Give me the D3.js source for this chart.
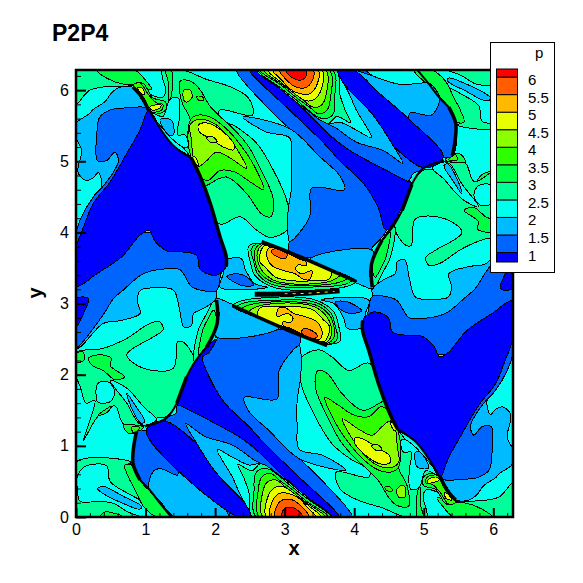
<!DOCTYPE html>
<html lang="en">
<head>
<meta charset="utf-8">
<title>P2P4</title>
<script src="https://d3js.org/d3.v7.min.js"></script>
<style>
  html, body { margin: 0; background: #fff; }
  text { font-family: "Liberation Sans", Arial, sans-serif; fill: #000; }
  .axis .domain { display: none; }
  .axis line { stroke: #000; }
  .axis text { font-size: 16px; }
</style>
</head>
<body>
<div id="chart"></div>
<script>
// contour levels and colours, one colour per band (below 1 ... above 6)
var levels = [1, 1.5, 2, 2.5, 3, 3.5, 4, 4.5, 5, 5.5, 6];
var levelLabels = ["1", "1.5", "2", "2.5", "3", "3.5", "4", "4.5", "5", "5.5", "6"];
var bandColors = ["#0000ff", "#0064ff", "#00bbff", "#00ffee", "#00ff99", "#00ff44", "#2eff00", "#8bff00", "#e8ff00", "#ffba00", "#ff5d00", "#ff0000"];
var xTicks = [0, 1, 2, 3, 4, 5, 6];
var yTicks = [0, 1, 2, 3, 4, 5, 6];
var minorTicks = d3.range(0, 32).map(function(i) { return i / 5; });

// contour outlines, as [x, y] in data units
// upper left lobe
var cornerSpring = [[0,6.28],[.30,6.28],[.44,6.17],[.70,6.08],[.82,6.06],[.44,6.05],[.20,6.0],[.13,5.94],[0,5.80]];
var cornerBright = [[.30,6.28],[.85,6.28],[.99,6.15],[1.09,6.01],[.82,6.08],[.70,6.08],[.44,6.17]];
var lobeSpring = [[.87,6.09],[1.11,5.92],[1.25,5.90],[1.29,6.01],[1.25,6.15],[1.24,6.28],[1.54,6.28],[1.88,6.15],[2.21,6.05],[2.48,5.89],[2.54,5.65],[2.07,5.72],[2.06,5.61],[2.31,5.48],[2.60,5.25],[2.84,4.87],[3.03,4.45],[3.07,4.17],[3.03,4.03],[2.79,3.93],[2.60,4.03],[2.36,4.22],[2.06,4.12],[1.66,5.04],[1.05,5.72]];
var lobeBright = [[1.50,6.13],[1.66,6.12],[1.78,6.01],[1.93,5.77],[2.07,5.63],[2.28,5.44],[2.48,5.21],[2.64,4.92],[2.84,4.45],[2.80,4.22],[2.67,4.26],[2.45,4.55],[2.16,4.78],[1.88,4.66],[1.83,4.64],[1.78,4.80],[1.66,5.04],[1.61,5.42],[1.64,5.59],[1.52,5.84]];
var lobeGreen = [[1.65,5.59],[1.76,5.65],[1.93,5.62],[2.16,5.46],[2.38,5.21],[2.57,4.92],[2.70,4.60],[2.52,4.70],[2.28,4.85],[2.07,4.87],[1.90,4.73],[1.81,4.76],[1.78,4.80],[1.66,5.04],[1.61,5.30]];
var lobeLime = [[1.64,5.51],[1.78,5.59],[2.02,5.51],[2.26,5.25],[2.45,4.90],[2.21,5.05],[2.02,5.13],[1.88,5.01],[1.76,4.93],[1.69,5.04],[1.66,5.30]];
var lobeYellow = [[1.76,5.51],[1.88,5.54],[2.12,5.41],[2.28,5.22],[2.26,5.16],[2.12,5.20],[1.93,5.32],[1.78,5.41]];
var lobeHole = [[1.88,5.33],[1.95,5.35],[2.03,5.28],[1.95,5.26]];
var lobeSpot = [[1.64,5.03],[1.71,5.06],[1.76,4.94],[1.71,4.97]];
var lobeOval = [[1.55,6.0],[1.64,6.0],[1.67,5.90],[1.59,5.83],[1.55,5.86]];
var lobeDot = [[1.73,5.91],[1.81,5.91],[1.84,5.86],[1.78,5.85]];
var lobeStrip = [[1.29,6.28],[1.37,6.28],[1.39,6.10],[1.35,5.87],[1.33,5.87],[1.33,6.10]];
var tipBright = [[.87,6.10],[.97,6.09],[1.11,5.89],[1.28,5.84],[1.30,5.75],[1.23,5.68],[1.09,5.68]];
var tipGreen = [[.82,6.07],[.92,6.10],[1.04,5.94],[1.16,5.82],[1.25,5.80],[1.23,5.72],[1.06,5.70],[.99,5.87]];
var tipYellowA = [[.88,6.04],[.96,6.02],[.98,5.94],[.93,5.96]];
var tipYellowB = [[1.06,5.76],[1.22,5.80],[1.21,5.75],[1.09,5.72]];
var lobeCyan = [[1.09,5.68],[1.25,5.63],[1.35,5.87],[1.47,5.89],[1.49,5.63],[1.46,5.37],[1.57,5.37],[1.61,5.21],[1.57,5.19],[1.42,5.28]];
var lobeLight = [[1.21,5.59],[1.37,5.58],[1.40,5.37],[1.33,5.37]];
// same lobe family, lower right
var cornerSpringB = [[6.28,0],[5.98,0],[5.84,.11],[5.58,.20],[5.46,.22],[5.84,.23],[6.08,.28],[6.15,.34],[6.28,.48]];
var cornerBrightB = [[5.98,0],[5.43,0],[5.29,.13],[5.19,.27],[5.46,.20],[5.58,.20],[5.84,.11]];
var lobeSpringB = [[5.41,.19],[5.17,.36],[5.03,.38],[4.99,.27],[5.03,.13],[5.04,0],[4.74,0],[4.40,.13],[4.07,.23],[3.80,.39],[3.74,.63],[4.21,.56],[4.22,.67],[3.97,.80],[3.68,1.03],[3.44,1.41],[3.25,1.83],[3.21,2.11],[3.25,2.25],[3.49,2.35],[3.68,2.25],[3.92,2.06],[4.22,2.16],[4.62,1.24],[5.23,.56]];
var lobeBrightB = [[4.78,.15],[4.62,.16],[4.50,.27],[4.35,.51],[4.21,.65],[4.00,.84],[3.80,1.07],[3.64,1.36],[3.44,1.83],[3.48,2.06],[3.61,2.02],[3.83,1.73],[4.12,1.50],[4.40,1.62],[4.45,1.64],[4.50,1.48],[4.62,1.24],[4.67,.86],[4.64,.69],[4.76,.44]];
var lobeGreenB = [[4.63,.69],[4.52,.63],[4.35,.66],[4.12,.82],[3.90,1.07],[3.71,1.36],[3.58,1.68],[3.76,1.58],[4.00,1.43],[4.21,1.41],[4.38,1.55],[4.47,1.52],[4.50,1.48],[4.62,1.24],[4.67,.98]];
var lobeLimeB = [[4.64,.77],[4.50,.69],[4.26,.77],[4.02,1.03],[3.83,1.38],[4.07,1.23],[4.26,1.15],[4.40,1.27],[4.52,1.35],[4.59,1.24],[4.62,.98]];
var lobeYellowB = [[4.52,.77],[4.40,.74],[4.16,.87],[4.00,1.06],[4.02,1.12],[4.16,1.08],[4.35,.96],[4.50,.87]];
var lobeHoleB = [[4.40,.95],[4.33,.93],[4.25,1.0],[4.33,1.02]];
var lobeSpotB = [[4.64,1.25],[4.57,1.22],[4.52,1.34],[4.57,1.31]];
var lobeOvalB = [[4.73,.28],[4.64,.28],[4.61,.38],[4.69,.45],[4.73,.42]];
var lobeDotB = [[4.55,.37],[4.47,.37],[4.44,.42],[4.50,.43]];
var lobeStripB = [[4.99,0],[4.91,0],[4.89,.18],[4.93,.41],[4.95,.41],[4.95,.18]];
var tipBrightB = [[5.41,.18],[5.31,.19],[5.17,.39],[5.0,.44],[4.98,.53],[5.05,.60],[5.19,.60]];
var tipGreenB = [[5.46,.21],[5.36,.18],[5.24,.34],[5.12,.46],[5.03,.48],[5.05,.56],[5.22,.58],[5.29,.41]];
var tipYellowAB = [[5.40,.24],[5.32,.26],[5.30,.34],[5.35,.32]];
var tipYellowBB = [[5.22,.52],[5.06,.48],[5.07,.53],[5.19,.56]];
var lobeCyanB = [[5.19,.60],[5.03,.65],[4.93,.41],[4.81,.39],[4.79,.65],[4.82,.91],[4.71,.91],[4.67,1.07],[4.71,1.09],[4.86,1.0]];
var lobeLightB = [[5.07,.69],[4.91,.70],[4.88,.91],[4.95,.91]];

// lower left lobe
var sideSpring = [[.02,2.32],[.39,2.37],[.73,2.51],[1.06,2.72],[1.21,2.74],[1.25,2.63],[1.11,2.53],[.73,2.28],[.97,2.09],[1.40,2.09],[1.46,2.46],[1.54,2.46],[1.71,2.18],[1.59,1.97],[1.45,1.60],[1.30,1.41],[1.16,1.39],[.99,1.28],[.90,1.29],[.68,1.31],[.56,1.56],[.32,1.42],[.11,1.08],[.20,1.36],[.27,1.64],[.15,1.60],[.06,1.83],[0,1.99],[0,2.21]];
var sideOval = [[.29,1.69],[.32,1.88],[.46,1.90],[.56,1.76],[.49,1.62],[.32,1.61]];
var sideBlob = [[.18,2.23],[.34,2.28],[.51,2.23],[.49,2.13],[.70,1.97],[.56,1.93],[.39,2.06],[.25,2.12]];
var sideFleck = [[.32,1.43],[.51,1.56],[.46,1.48],[.35,1.43]];
var sideEdge = [[0,2.30],[.10,2.32],[.11,2.20],[0,2.18]];
var sideWedge = [[.49,1.92],[.73,1.81],[.99,1.53],[1.16,1.37],[.99,1.29],[.90,1.32],[.73,1.60]];
var sideStreak = [[.73,1.74],[.85,1.57],[.99,1.34],[.93,1.32],[.80,1.53]];
var knotBright = [[.68,1.29],[.87,1.29],[.97,1.26],[.85,1.18],[.75,1.18]];
var knotGreen = [[.80,1.26],[.92,1.26],[.83,1.18]];
var stripSpring = [[2.0,3.07],[2.03,2.72],[1.90,2.42],[1.71,2.18],[1.69,2.23],[1.76,2.63],[1.88,2.86]];
var stripBright = [[1.98,2.91],[2.02,2.72],[1.90,2.44],[1.76,2.28],[1.78,2.44],[1.83,2.65],[1.90,2.79]];
var footSpring = [[0,.77],[.80,.77],[.72,.72],[.85,.43],[1.06,.26],[1.42,0],[0,0]];
var footCyan = [[.02,.57],[.13,.71],[.44,.72],[.49,.50],[.75,.33],[.92,.24],[1.21,.07],[1.25,0],[.97,0],[.75,.07],[.54,.19],[.34,.22],[.06,.22],[.02,.38]];
var footStreak = [[.31,.40],[.39,.43],[.68,.29],[.94,.15],[.92,.11],[.68,.19],[.39,.33]];
var footBright = [[.70,.73],[.80,.73],[.92,.52],[1.21,.22],[1.42,0],[1.16,0],[.97,.15],[.85,.38],[.75,.57]];
var footOval = [[.34,0],[.42,.07],[.56,.05],[.68,0]];
// same family, upper right
var sideSpringB = [[6.26,3.96],[5.89,3.91],[5.55,3.77],[5.22,3.56],[5.07,3.54],[5.03,3.65],[5.17,3.75],[5.55,4.0],[5.31,4.19],[4.88,4.19],[4.82,3.82],[4.74,3.82],[4.57,4.10],[4.69,4.31],[4.83,4.68],[4.98,4.87],[5.12,4.89],[5.29,5.0],[5.38,4.99],[5.60,4.97],[5.72,4.72],[5.96,4.86],[6.17,5.20],[6.08,4.92],[6.01,4.64],[6.13,4.68],[6.22,4.45],[6.28,4.29],[6.28,4.07]];
var sideOvalB = [[5.99,4.59],[5.96,4.40],[5.82,4.38],[5.72,4.52],[5.79,4.66],[5.96,4.67]];
var sideBlobB = [[6.10,4.05],[5.94,4.0],[5.77,4.05],[5.79,4.15],[5.58,4.31],[5.72,4.35],[5.89,4.22],[6.03,4.16]];
var sideFleckB = [[5.96,4.85],[5.77,4.72],[5.82,4.80],[5.93,4.85]];
var sideEdgeB = [[6.28,3.98],[6.18,3.96],[6.17,4.08],[6.28,4.10]];
var sideWedgeB = [[5.79,4.36],[5.55,4.47],[5.29,4.75],[5.12,4.91],[5.29,4.99],[5.38,4.96],[5.55,4.68]];
var sideStreakB = [[5.55,4.54],[5.43,4.71],[5.29,4.94],[5.35,4.96],[5.48,4.75]];
var knotBrightB = [[5.60,4.99],[5.41,4.99],[5.31,5.02],[5.43,5.10],[5.53,5.10]];
var knotGreenB = [[5.48,5.02],[5.36,5.02],[5.45,5.10]];
var stripSpringB = [[4.28,3.21],[4.25,3.56],[4.38,3.86],[4.57,4.10],[4.59,4.05],[4.52,3.65],[4.40,3.42]];
var stripBrightB = [[4.30,3.37],[4.26,3.56],[4.38,3.84],[4.52,4.0],[4.50,3.84],[4.45,3.63],[4.38,3.49]];
var footSpringB = [[6.28,5.51],[5.48,5.51],[5.56,5.56],[5.43,5.85],[5.22,6.02],[4.86,6.28],[6.28,6.28]];
var footCyanB = [[6.26,5.71],[6.15,5.57],[5.84,5.56],[5.79,5.78],[5.53,5.95],[5.36,6.04],[5.07,6.21],[5.03,6.28],[5.31,6.28],[5.53,6.21],[5.74,6.09],[5.94,6.06],[6.22,6.06],[6.26,5.90]];
var footStreakB = [[5.97,5.88],[5.89,5.85],[5.60,5.99],[5.34,6.13],[5.36,6.17],[5.60,6.09],[5.89,5.95]];
var footBrightB = [[5.58,5.55],[5.48,5.55],[5.36,5.76],[5.07,6.06],[4.86,6.28],[5.12,6.28],[5.31,6.13],[5.43,5.90],[5.53,5.71]];

// low pressure wedges
var leftLight = [[.82,6.04],[.63,6.04],[.51,5.96],[.42,5.84],[.25,5.73],[.18,5.66],[0,5.53],[0,5.33],[.08,5.16],[.03,4.84],[.15,4.73],[.25,4.77],[.32,4.84],[.37,4.65],[.27,4.53],[1,5],[1.05,5.72],[.94,5.87]];
var leftLightB = [[5.46,.24],[5.65,.24],[5.77,.32],[5.86,.44],[6.03,.55],[6.10,.62],[6.28,.75],[6.28,.95],[6.20,1.12],[6.25,1.44],[6.13,1.55],[6.03,1.51],[5.96,1.44],[5.91,1.63],[6.01,1.75],[5.28,1.28],[5.23,.56],[5.34,.41]];
var midLight = [[0,2.37],[.39,2.72],[.63,2.76],[.92,2.86],[.88,3.05],[.93,3.19],[1.16,3.22],[1.40,3.19],[1.49,2.91],[1.55,2.67],[1.66,2.69],[1.69,2.86],[1.83,2.93],[2.02,3.07],[2.02,3.18],[2.08,3.4],[2.16,3.63],[1,4],[0,3.6]];
var midLightB = [[6.28,3.91],[5.89,3.56],[5.65,3.52],[5.36,3.42],[5.40,3.23],[5.35,3.09],[5.12,3.06],[4.88,3.09],[4.79,3.37],[4.73,3.61],[4.62,3.59],[4.59,3.42],[4.45,3.35],[4.26,3.21],[4.26,3.10],[4.20,2.88],[4.12,2.65],[5.28,2.28],[6.28,2.68]];
var leftMid = [[1.05,5.72],[.73,5.75],[.49,5.72],[.34,5.62],[.30,5.39],[.31,5.01],[.44,5.01],[.56,5.13],[.61,5.01],[.54,4.85],[.39,4.65],[.25,4.50],[.08,4.22],[0,3.98],[0,3.6],[1,4.5]];
var leftMidB = [[5.23,.56],[5.55,.53],[5.79,.56],[5.94,.66],[5.98,.89],[5.97,1.27],[5.84,1.27],[5.72,1.15],[5.67,1.27],[5.74,1.43],[5.89,1.63],[6.03,1.78],[6.20,2.06],[6.28,2.30],[6.28,2.68],[5.28,1.78]];
var lowMid = [[0,3.6],[1,4],[2.16,3.63],[2.08,3.4],[2.02,3.18],[1.78,3.19],[1.66,3.24],[1.49,3.48],[1.30,3.49],[.97,3.42],[.68,3.19],[.54,3.07],[.39,2.84],[.06,2.42],[0,2.37]];
var lowMidB = [[6.28,2.68],[5.28,2.28],[4.12,2.65],[4.20,2.88],[4.26,3.10],[4.50,3.09],[4.62,3.04],[4.79,2.80],[4.98,2.79],[5.31,2.86],[5.60,3.09],[5.74,3.21],[5.89,3.44],[6.22,3.86],[6.28,3.91]];
var leftDeepSpot = [[0,3.07],[.18,3.07],[.13,2.91],[0,2.67]];
var rightDeepSpot = [[6.28,3.21],[6.10,3.21],[6.15,3.37],[6.28,3.61]];
var bandMid = [[2.31,6.28],[2.50,6.28],[3.07,5.72],[3.55,5.27],[3.79,5.01],[4.13,4.69],[4.34,4.36],[4.46,4.03],[4.25,3.77],[4.27,3.75],[3.41,3.64],[3.07,3.71],[3.07,3.87],[3.36,4.22],[3.39,4.62],[3.86,4.60],[3.79,4.80],[3.51,5.06],[3.07,5.46],[2.79,5.72]];
var bandMidB = [[3.97,0],[3.78,0],[3.21,.56],[2.73,1.01],[2.49,1.27],[2.15,1.59],[1.94,1.92],[1.82,2.25],[2.03,2.51],[2.01,2.53],[2.87,2.64],[3.21,2.57],[3.21,2.41],[2.92,2.06],[2.89,1.66],[2.42,1.68],[2.49,1.48],[2.77,1.22],[3.21,.82],[3.49,.56]];
var bandLight = [[2.40,5.62],[3.07,5.46],[3.51,5.06],[3.79,4.80],[3.86,4.60],[3.39,4.62],[3.36,4.22],[3.07,3.87],[3.05,3.94],[3.05,4.31],[3.10,4.64],[3.10,5.01],[3.07,5.33],[2.74,5.41]];
var bandLightB = [[3.88,.66],[3.21,.82],[2.77,1.22],[2.49,1.48],[2.42,1.68],[2.89,1.66],[2.92,2.06],[3.21,2.41],[3.23,2.34],[3.23,1.97],[3.18,1.64],[3.18,1.27],[3.21,.95],[3.54,.87]];
var topMid = [[3.99,6.28],[4.15,6.28],[4.51,5.93],[4.77,5.58],[4.80,5.68],[5.11,5.65],[5.21,5.79],[5.23,5.90],[5.45,5.55],[5.42,5.08],[5.28,5.06]];
var topLight = [[3.99,6.28],[4.20,6.22],[4.66,6.08],[4.97,6.10],[5.09,6.09],[5.23,5.90],[5.21,5.79],[5.11,5.65],[4.80,5.68],[4.77,5.58]];
var footMid = [[1.01,1.21],[2.33,0],[2.19,0],[1.50,.70],[1.46,.59],[1.21,.68],[1.11,.64],[1.05,.39],[.92,.52],[.82,.75],[.83,.99],[.87,1.20]];
var footLight = [[1.05,.39],[1.11,.64],[1.21,.68],[1.46,.59],[1.50,.70],[2.19,0],[1.42,0],[1.21,.22]];
var centreLight = [[2.16,3.61],[2.38,3.63],[2.43,3.49],[2.57,3.28],[2.76,3.23],[2.07,3.23],[2.12,3.42]];
var centreLightB = [[4.12,2.67],[3.90,2.65],[3.85,2.79],[3.71,3.0],[3.52,3.05],[4.21,3.05],[4.16,2.86]];
var centreOval = [[2.17,3.38],[2.31,3.42],[2.45,3.38],[2.55,3.26],[2.40,3.25],[2.26,3.31]];
var centreOvalB = [[4.11,2.90],[3.97,2.86],[3.83,2.90],[3.73,3.02],[3.88,3.03],[4.02,2.97]];
var wedgeLight = [[3.36,3.62],[4.27,3.74],[4.22,3.42],[4.27,3.21],[4.08,3.27]];
var wedgeLightB = [[2.92,2.66],[2.01,2.54],[2.06,2.86],[2.01,3.07],[2.20,3.01]];
var stripeMid = [[3.64,6.28],[4.99,4.91],[4.85,4.83],[4.77,4.72],[3.94,5.15],[3.60,5.41],[3.31,5.67],[3.03,5.93],[2.62,6.28]];
var stripeMidB = [[2.64,0],[1.29,1.37],[1.44,1.46],[1.46,1.57],[2.34,1.13],[2.68,.87],[2.97,.61],[3.25,.35],[3.66,0]];
var stripeDeep = [[2.50,6.28],[2.64,6.28],[3.03,5.95],[3.36,5.65],[3.70,5.32],[3.94,5.15],[4.77,4.72],[4.82,4.70],[4.46,4.03],[4.34,4.36],[4.13,4.69],[3.79,5.01],[3.55,5.27],[3.07,5.72]];
var stripeDeepB = [[3.78,0],[3.64,0],[3.25,.33],[2.92,.63],[2.58,.96],[2.34,1.13],[1.51,1.56],[1.46,1.58],[1.71,2.18],[1.88,2.39],[2.02,2.50],[1.90,2.30],[1.82,2.25],[1.94,1.92],[2.15,1.59],[2.49,1.27],[2.73,1.01],[3.21,.56]];
var outerDeep = [[3.70,6.28],[3.99,6.28],[4.37,5.95],[4.80,5.58],[5.28,5.06],[4.99,4.91]];
var outerDeepB = [[1.28,1.35],[2.60,0],[2.33,0],[1.01,1.21]];
var wedgeDeep = [[1.05,5.72],[1.21,5.46],[1.40,5.22],[1.66,5.04],[1.78,4.80],[1.93,4.41],[2.07,3.94],[2.16,3.66],[2.16,3.52],[2.02,3.40],[1.88,3.42],[1.78,3.49],[1.73,3.68],[1.45,3.73],[1.33,3.73],[1.14,3.87],[1.05,4.03],[.92,3.96],[.66,3.66],[.30,3.42],[0,3.24],[0,3.77],[.11,4.08],[.25,4.41],[.49,4.71],[.73,5.11],[.92,5.44]];
var wedgeDeepB = [[5.23,.56],[5.07,.82],[4.88,1.06],[4.62,1.24],[4.50,1.48],[4.35,1.87],[4.21,2.34],[4.12,2.62],[4.12,2.76],[4.26,2.88],[4.40,2.86],[4.50,2.79],[4.55,2.60],[4.83,2.55],[4.95,2.55],[5.14,2.41],[5.23,2.25],[5.36,2.32],[5.62,2.62],[5.98,2.86],[6.28,3.04],[6.28,2.51],[6.17,2.20],[6.03,1.87],[5.79,1.57],[5.55,1.17],[5.36,.84]];

// the two hills at the top and bottom edge
var tearLight = [[3.67,6.28],[3.91,6.02],[4.27,5.65],[4.56,5.22],[4.70,4.97],[4.42,5.15],[4.03,5.27],[3.75,5.46],[3.55,5.60]];
var tearCyan = [[3.69,6.28],[3.89,6.02],[4.03,5.72],[4.25,5.33],[4.03,5.44],[3.79,5.55],[3.65,5.53],[3.55,5.58]];
var hill25 = [[2.60,6.28],[3.74,6.28],[3.79,5.95],[3.87,5.72],[3.95,5.54],[3.75,5.63],[3.63,5.53],[3.51,5.58],[3.36,5.69],[3.17,5.83],[2.93,6.02]];
var hill3 = [[2.62,6.28],[3.69,6.28],[3.72,5.90],[3.70,5.67],[3.60,5.60],[3.48,5.62],[3.34,5.72],[3.17,5.86],[2.93,6.04]];
var hill35 = [[2.65,6.28],[3.64,6.28],[3.66,5.90],[3.61,5.72],[3.48,5.67],[3.36,5.76],[3.19,5.88],[2.95,6.07]];
var hill4 = [[2.70,6.28],[3.59,6.28],[3.60,5.95],[3.53,5.79],[3.41,5.76],[3.22,5.90],[2.95,6.09]];
var hill45 = [[2.76,6.28],[3.54,6.28],[3.53,6.02],[3.43,5.87],[3.31,5.85],[3.17,5.93],[2.95,6.11]];
var hill5 = [[2.83,6.28],[3.48,6.28],[3.47,6.09],[3.36,5.95],[3.22,5.95],[3.07,6.02],[2.95,6.15]];
var hill55 = [[2.93,6.28],[3.41,6.28],[3.40,6.14],[3.31,6.04],[3.17,6.04],[3.03,6.14]];
var hill6 = [[3.02,6.28],[3.31,6.28],[3.30,6.18],[3.22,6.14],[3.10,6.18]];
var tearLightB = [[2.61,0],[2.37,.26],[2.01,.63],[1.72,1.06],[1.58,1.31],[1.86,1.13],[2.25,1.01],[2.53,.82],[2.73,.68]];
var tearCyanB = [[2.59,0],[2.39,.26],[2.25,.56],[2.03,.95],[2.25,.84],[2.49,.73],[2.63,.75],[2.73,.70]];
var hill25B = [[3.68,0],[2.54,0],[2.49,.33],[2.41,.56],[2.33,.74],[2.53,.65],[2.65,.75],[2.77,.70],[2.92,.59],[3.11,.45],[3.35,.26]];
var hill3B = [[3.66,0],[2.59,0],[2.56,.38],[2.58,.61],[2.68,.68],[2.80,.66],[2.94,.56],[3.11,.42],[3.35,.24]];
var hill35B = [[3.63,0],[2.64,0],[2.62,.38],[2.67,.56],[2.80,.61],[2.92,.52],[3.09,.40],[3.33,.21]];
var hill4B = [[3.58,0],[2.69,0],[2.68,.33],[2.75,.49],[2.87,.52],[3.06,.38],[3.33,.19]];
var hill45B = [[3.52,0],[2.74,0],[2.75,.26],[2.85,.41],[2.97,.43],[3.11,.35],[3.33,.17]];
var hill5B = [[3.45,0],[2.80,0],[2.81,.19],[2.92,.33],[3.06,.33],[3.21,.26],[3.33,.13]];
var hill55B = [[3.35,0],[2.87,0],[2.88,.14],[2.97,.24],[3.11,.24],[3.25,.14]];
var hill6B = [[3.26,0],[2.97,0],[2.98,.10],[3.06,.14],[3.18,.10]];

// the slanted slabs in the centre
var slab25 = [[2.48,3.80],[2.63,3.85],[3.22,3.63],[4.03,3.31],[3.89,3.24],[3.60,3.20],[2.98,3.20],[2.76,3.26],[2.57,3.40],[2.50,3.61]];
var slab3 = [[2.52,3.77],[2.65,3.85],[3.22,3.63],[3.96,3.32],[3.82,3.26],[3.55,3.24],[3.03,3.23],[2.79,3.28],[2.61,3.42],[2.55,3.61]];
var slab35 = [[2.57,3.75],[2.67,3.84],[3.22,3.63],[3.89,3.35],[3.75,3.29],[3.51,3.26],[3.07,3.26],[2.81,3.31],[2.63,3.45],[2.57,3.61]];
var slab4 = [[2.61,3.73],[2.69,3.83],[3.22,3.63],[3.79,3.40],[3.67,3.32],[3.43,3.28],[3.07,3.28],[2.84,3.33],[2.67,3.47],[2.61,3.61]];
var slab45 = [[2.64,3.68],[2.71,3.81],[3.22,3.63],[3.67,3.45],[3.63,3.34],[3.41,3.32],[3.12,3.32],[2.87,3.37],[2.72,3.51],[2.64,3.59]];
var slab5 = [[2.74,3.70],[2.79,3.79],[3.22,3.62],[3.30,3.59],[3.31,3.54],[3.19,3.54],[3.16,3.48],[3.24,3.42],[3.39,3.46],[3.36,3.34],[3.27,3.34],[3.15,3.42],[3.00,3.46],[2.81,3.54]];
var slab55 = [[2.81,3.73],[2.85,3.77],[3.04,3.69],[3.00,3.63],[2.91,3.65]];
var slab25B = [[3.80,2.48],[3.65,2.43],[3.06,2.65],[2.25,2.97],[2.39,3.04],[2.68,3.08],[3.30,3.08],[3.52,3.02],[3.71,2.88],[3.78,2.67]];
var slab3B = [[3.76,2.51],[3.63,2.43],[3.06,2.65],[2.32,2.96],[2.46,3.02],[2.73,3.04],[3.25,3.05],[3.49,3.0],[3.67,2.86],[3.73,2.67]];
var slab35B = [[3.71,2.53],[3.61,2.44],[3.06,2.65],[2.39,2.93],[2.53,2.99],[2.77,3.02],[3.21,3.02],[3.47,2.97],[3.65,2.83],[3.71,2.67]];
var slab4B = [[3.67,2.55],[3.59,2.45],[3.06,2.65],[2.49,2.88],[2.61,2.96],[2.85,3.0],[3.21,3.0],[3.44,2.95],[3.61,2.81],[3.67,2.67]];
var slab45B = [[3.64,2.60],[3.57,2.47],[3.06,2.65],[2.61,2.83],[2.65,2.94],[2.87,2.96],[3.16,2.96],[3.41,2.91],[3.56,2.77],[3.64,2.69]];
var slab5B = [[3.54,2.58],[3.49,2.49],[3.06,2.66],[2.98,2.69],[2.97,2.74],[3.09,2.74],[3.12,2.80],[3.04,2.86],[2.89,2.82],[2.92,2.94],[3.01,2.94],[3.13,2.86],[3.28,2.82],[3.47,2.74]];
var slab55B = [[3.47,2.55],[3.43,2.51],[3.24,2.59],[3.28,2.65],[3.37,2.63]];

// painting order, each entry is the band value and its outline
var paintOrder = [
  [2.5, cornerSpring], [3, cornerBright], [2.5, lobeSpring], [3, lobeBright], [3.5, lobeGreen], [4, lobeLime], [4.5, lobeYellow], [4, lobeHole], [4.5, lobeSpot], [4, lobeOval], [3.5, lobeDot], [3, lobeStrip], [3, tipBright], [3.5, tipGreen], [4.5, tipYellowA], [4.5, tipYellowB], [2, lobeCyan], [1.5, lobeLight],
  [2.5, cornerSpringB], [3, cornerBrightB], [2.5, lobeSpringB], [3, lobeBrightB], [3.5, lobeGreenB], [4, lobeLimeB], [4.5, lobeYellowB], [4, lobeHoleB], [4.5, lobeSpotB], [4, lobeOvalB], [3.5, lobeDotB], [3, lobeStripB], [3, tipBrightB], [3.5, tipGreenB], [4.5, tipYellowAB], [4.5, tipYellowBB], [2, lobeCyanB], [1.5, lobeLightB],
  [2.5, sideSpring], [2, sideOval], [3, sideBlob], [3, sideFleck], [3, sideEdge], [2, sideWedge], [1.5, sideStreak], [3, knotBright], [3.5, knotGreen], [2.5, stripSpring], [3, stripBright], [2.5, footSpring], [2, footCyan], [1.5, footStreak], [3, footBright], [3, footOval],
  [2.5, sideSpringB], [2, sideOvalB], [3, sideBlobB], [3, sideFleckB], [3, sideEdgeB], [2, sideWedgeB], [1.5, sideStreakB], [3, knotBrightB], [3.5, knotGreenB], [2.5, stripSpringB], [3, stripBrightB], [2.5, footSpringB], [2, footCyanB], [1.5, footStreakB], [3, footBrightB],
  [1.5, leftLight], [1.5, leftLightB], [1.5, midLight], [1.5, midLightB], [1, leftMid], [1, leftMidB], [1, lowMid], [1, lowMidB], [.5, leftDeepSpot], [.5, rightDeepSpot],
  [1, bandMid], [1, bandMidB], [1.5, bandLight], [1.5, bandLightB], [1, topMid], [1.5, topLight], [1, footMid], [1.5, footLight],
  [1.5, centreLight], [1.5, centreLightB], [1, centreOval], [1, centreOvalB], [1.5, wedgeLight], [1.5, wedgeLightB],
  [1, stripeMid], [1, stripeMidB], [.5, stripeDeep], [.5, stripeDeepB], [.5, outerDeep], [.5, outerDeepB], [.5, wedgeDeep], [.5, wedgeDeepB],
  [1.5, tearLight], [2, tearCyan], [2.5, hill25], [3, hill3], [3.5, hill35], [4, hill4], [4.5, hill45], [5, hill5], [5.5, hill55], [6, hill6],
  [1.5, tearLightB], [2, tearCyanB], [2.5, hill25B], [3, hill3B], [3.5, hill35B], [4, hill4B], [4.5, hill45B], [5, hill5B], [5.5, hill55B], [6, hill6B],
  [2.5, slab25], [3, slab3], [3.5, slab35], [4, slab4], [4.5, slab45], [5, slab5], [5.5, slab55],
  [2.5, slab25B], [3, slab3B], [3.5, slab35B], [4, slab4B], [4.5, slab45B], [5, slab5B], [5.5, slab55B]
];

// shock fronts, drawn as heavy lines over the bands
var thinShocks = [
  [[1.05,5.72],[1.21,5.46],[1.40,5.22],[1.66,5.04]],
  [[5.23,.56],[5.07,.82],[4.88,1.06],[4.62,1.24]],
  [[1.59,1.97],[1.71,2.18],[1.88,2.39]],
  [[4.69,4.31],[4.57,4.10],[4.40,3.89]],
  [[.92,.52],[1.06,.38],[1.21,.19],[1.37,0]],
  [[5.36,5.76],[5.22,5.90],[5.07,6.09],[4.91,6.28]],
  [[.99,1.27],[1.30,1.39],[1.45,1.60]],
  [[5.29,5.01],[4.98,4.89],[4.83,4.68]]
];
var thickShocks = [
  [[.82,6.04],[.94,5.91],[1.05,5.70]],
  [[5.46,.24],[5.34,.37],[5.23,.58]],
  [[1.66,5.04],[1.78,4.80],[1.93,4.41],[2.07,3.94],[2.16,3.66],[2.16,3.52]],
  [[4.62,1.24],[4.50,1.48],[4.35,1.87],[4.21,2.34],[4.12,2.62],[4.12,2.76]],
  [[2.02,3.05],[2.03,2.72],[1.88,2.39]],
  [[4.26,3.23],[4.25,3.56],[4.40,3.89]],
  [[1.59,1.97],[1.45,1.60]],
  [[4.69,4.31],[4.83,4.68]],
  [[.87,1.20],[.83,.99],[.82,.75],[.92,.52]],
  [[5.41,5.08],[5.45,5.29],[5.46,5.53],[5.36,5.76]],
  [[2.67,3.87],[3.12,3.70],[4.03,3.31]],
  [[3.61,2.41],[3.16,2.58],[2.25,2.97]]
];
var midShock = [[2.57,3.13],[3.22,3.14],[3.79,3.18]];
var sparkLine = [[3.0,3.14],[3.22,3.14],[3.72,3.17]];

var width = 583, height = 583;

var x = d3.scaleLinear().domain([0, 6.283]).range([76, 513]);
var y = d3.scaleLinear().domain([0, 6.283]).range([517, 70]);
var band = d3.scaleThreshold().domain(levels).range(bandColors);

var svg = d3.select("#chart").append("svg")
  .attr("width", width)
  .attr("height", height)
  .style("display", "block");

svg.append("clipPath").attr("id", "plot-clip")
  .append("rect")
  .attr("x", x(0)).attr("y", y(6.283))
  .attr("width", x(6.283) - x(0)).attr("height", y(0) - y(6.283));

var outline = d3.line()
  .x(function(d) { return x(d[0]); })
  .y(function(d) { return y(d[1]); })
  .curve(d3.curveCatmullRomClosed.alpha(0.5));
var line = d3.line()
  .x(function(d) { return x(d[0]); })
  .y(function(d) { return y(d[1]); })
  .curve(d3.curveCatmullRom.alpha(0.5));

var field = svg.append("g").attr("clip-path", "url(#plot-clip)");

// base band is the cyan one, everything else is painted on it
field.append("rect")
  .attr("x", x(0)).attr("y", y(6.283))
  .attr("width", x(6.283) - x(0)).attr("height", y(0) - y(6.283))
  .attr("fill", band(2));

field.selectAll("path.band")
  .data(paintOrder)
  .enter().append("path")
  .attr("class", "band")
  .attr("d", function(d) { return outline(d[1]); })
  .attr("fill", function(d) { return band(d[0]); })
  .attr("stroke", "#000")
  .attr("stroke-width", 1)
  .attr("shape-rendering", "crispEdges");

field.selectAll("path.thin")
  .data(thinShocks)
  .enter().append("path")
  .attr("class", "thin")
  .attr("d", line)
  .attr("fill", "none")
  .attr("stroke", "#000")
  .attr("stroke-width", 2);

field.selectAll("path.thick")
  .data(thickShocks)
  .enter().append("path")
  .attr("class", "thick")
  .attr("d", line)
  .attr("fill", "none")
  .attr("stroke", "#000")
  .attr("stroke-width", 3.5);

field.append("path")
  .attr("d", line(midShock))
  .attr("fill", "none")
  .attr("stroke", "#000")
  .attr("stroke-width", 5);

field.append("path")
  .attr("d", line(sparkLine))
  .attr("fill", "none")
  .attr("stroke", band(4.5))
  .attr("stroke-width", 1)
  .attr("stroke-dasharray", "3 5");

// inward ticks on the left and bottom only
var xMinor = d3.axisBottom(x).tickValues(minorTicks).tickSizeInner(-4).tickSizeOuter(0).tickFormat("");
var yMinor = d3.axisLeft(y).tickValues(minorTicks).tickSizeInner(-5).tickSizeOuter(0).tickFormat("");
var xMajor = d3.axisBottom(x).tickValues(xTicks).tickSizeInner(-9).tickSizeOuter(0).tickPadding(7).tickFormat(d3.format("d"));
var yMajor = d3.axisLeft(y).tickValues(yTicks).tickSizeInner(-10).tickSizeOuter(0).tickPadding(7).tickFormat(d3.format("d"));

svg.append("g").attr("class", "axis").attr("transform", "translate(0,517)").call(xMinor);
svg.append("g").attr("class", "axis").attr("transform", "translate(76,0)").call(yMinor);
svg.append("g").attr("class", "axis major").attr("transform", "translate(0,517)").call(xMajor);
svg.append("g").attr("class", "axis major").attr("transform", "translate(76,0)").call(yMajor);
svg.selectAll(".major line").attr("stroke-width", 2);

svg.append("rect")
  .attr("x", x(0)).attr("y", y(6.283))
  .attr("width", x(6.283) - x(0)).attr("height", y(0) - y(6.283))
  .attr("fill", "none")
  .attr("stroke", "#000")
  .attr("stroke-width", 2.5);

svg.append("text")
  .attr("x", 52).attr("y", 41)
  .attr("font-size", "23px").attr("font-weight", "bold")
  .text("P2P4");

svg.append("text")
  .attr("x", 294).attr("y", 555)
  .attr("text-anchor", "middle")
  .attr("font-size", "20px").attr("font-weight", "bold")
  .text("x");

svg.append("text")
  .attr("transform", "translate(42,293) rotate(-90)")
  .attr("text-anchor", "middle")
  .attr("font-size", "20px").attr("font-weight", "bold")
  .text("y");

// legend box with the level swatches
var legendY = d3.scaleLinear().domain([.73, 6.23]).range([262, 69]);
var legend = svg.append("g");

legend.append("rect")
  .attr("x", 490.5).attr("y", 42.5)
  .attr("width", 64).attr("height", 230)
  .attr("fill", "#fff")
  .attr("stroke", "#000");

var swatchEdges = [.73].concat(levels, [6.23]);

legend.selectAll("rect.swatch")
  .data(bandColors)
  .enter().append("rect")
  .attr("class", "swatch")
  .attr("x", 496.5)
  .attr("width", 21)
  .attr("y", function(d, i) { return legendY(swatchEdges[i + 1]); })
  .attr("height", function(d, i) { return legendY(swatchEdges[i]) - legendY(swatchEdges[i + 1]); })
  .attr("fill", function(d) { return d; })
  .attr("stroke", "#000");

legend.selectAll("text.level")
  .data(levelLabels)
  .enter().append("text")
  .attr("class", "level")
  .attr("x", 528)
  .attr("y", function(d, i) { return legendY(levels[i]) + 8; })
  .attr("font-size", "15px")
  .text(function(d) { return d; });

legend.append("text")
  .attr("x", 535).attr("y", 58)
  .attr("font-size", "15px")
  .text("p");
</script>
</body>
</html>
